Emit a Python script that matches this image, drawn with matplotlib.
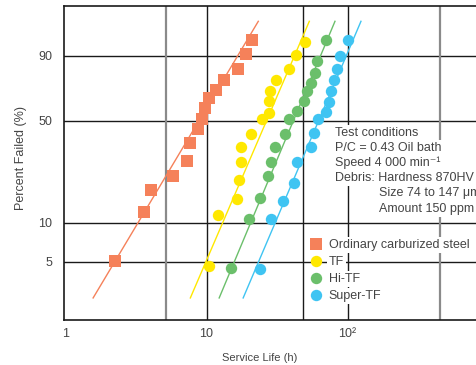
import numpy as np
import matplotlib
matplotlib.use("Agg")
import matplotlib.pyplot as plt

plt.rcParams['font.family'] = ['Liberation Sans', 'DejaVu Sans']

# service life (h) and percent failed (%)
ordinary_life = [2.26, 3.62, 4.06, 5.82, 7.27, 7.68, 8.75, 9.29, 9.76, 10.5, 11.7, 13.4, 16.8, 19.0, 21.1]
ordinary_failed = [5.07, 12.1, 17.5, 22.1, 28.1, 36.7, 44.7, 51.3, 58.2, 64.9, 70.3, 77.0, 83.5, 90.6, 95.4]

tf_life = [10.4, 12.0, 16.5, 17.1, 17.7, 17.5, 20.8, 24.6, 27.8, 27.8, 28.1, 31.1, 38.7, 43.4, 50.2]
tf_failed = [4.64, 11.4, 15.2, 20.7, 27.7, 34.6, 41.7, 50.9, 55.2, 63.1, 70.1, 77.0, 83.3, 90.2, 94.9]

hitf_life = [14.9, 20.1, 24.0, 27.2, 28.5, 30.6, 36.2, 38.7, 43.6, 48.9, 51.9, 54.7, 58.5, 61.0, 70.0]
hitf_failed = [4.45, 10.6, 15.4, 22.1, 27.7, 34.9, 41.7, 51.2, 56.4, 63.3, 70.0, 75.2, 81.5, 87.4, 95.3]

supertf_life = [24.1, 28.8, 34.7, 41.5, 43.6, 55.4, 57.9, 61.5, 70.4, 73.9, 76.4, 79.6, 84.2, 88.9, 100.3]
supertf_failed = [4.39, 10.6, 14.6, 19.6, 27.5, 34.9, 42.3, 51.1, 55.7, 62.4, 69.9, 77.0, 83.5, 89.9, 95.3]

# fitted Weibull lines, end points
fit_failed = [2.6, 98.7]
ordinary_fit = [1.57, 23.3]
tf_fit = [7.68, 53.6]
hitf_fit = [12.3, 81.5]
supertf_fit = [18.2, 124.6]

labels = ['Ordinary carburized steel', 'TF', 'Hi-TF', 'Super-TF']
colors = ['#F5815A', '#FFE800', '#6BBF6B', '#3FC4F2']

x_ticks = [1, 10, 100, 1000]
x_ticklabels = ['1', '10', '10\u00b2', '10\u00b3']
y_ticks = [5, 10, 50, 90]
x_grid_dark = [10, 48, 100]
x_grid_gray = [5.15, 455]

conditions = ['Test conditions', 'P/C = 0.43 Oil bath', 'Speed 4 000 min\u207b\u00b9',
              'Debris: Hardness 870HV']
debris_more = ['Size 74 to 147 \u03bcm', 'Amount 150 ppm']


def weibull(p):
    p = np.clip(np.asarray(p, dtype=float), 1e-6, 100 - 1e-6)
    return np.log(-np.log(1 - p / 100))


def weibull_inv(w):
    return 100 * (1 - np.exp(-np.exp(w)))


W, H = 476, 365
fig = plt.figure(figsize=(W / 100, H / 100), dpi=100)
ax = fig.add_axes([64 / W, 45 / H, 424.5 / W, 314 / H])
ax.set_xscale('log')
ax.set_yscale('function', functions=(weibull, weibull_inv))
ax.set_xlim(0.9758, 1000)
ax.set_ylim(1.738, 99.685)

for v in y_ticks:
    ax.axhline(v, color='#1a1a1a', lw=1.0, zorder=0.5)
for v in x_grid_dark:
    ax.axvline(v, color='#1a1a1a', lw=1.0, zorder=0.5)
for v in x_grid_gray:
    ax.axvline(v, color='#8a8a8a', lw=1.6, zorder=0.5)

series = [(ordinary_life, ordinary_failed, ordinary_fit, 's'),
          (tf_life, tf_failed, tf_fit, 'o'),
          (hitf_life, hitf_failed, hitf_fit, 'o'),
          (supertf_life, supertf_failed, supertf_fit, 'o')]
for (life, failed, fit, mk), lab, c in zip(series, labels, colors):
    ax.plot(fit, fit_failed, color=c, lw=1.0, zorder=2)
    ax.plot(life, failed, mk, color=c, ms=8.4 if mk == 's' else 8.2,
            mew=0, linestyle='none', label=lab, zorder=3)

ax.set_xticks(x_ticks)
ax.set_xticklabels(x_ticklabels)
ax.xaxis.set_minor_locator(matplotlib.ticker.NullLocator())
ax.set_yticks(y_ticks)
ax.set_yticklabels([str(v) for v in y_ticks])
ax.yaxis.set_minor_locator(matplotlib.ticker.NullLocator())
ax.tick_params(axis='both', length=0, labelsize=9, labelcolor='#444444')
ax.tick_params(axis='y', pad=8.6)
ax.tick_params(axis='x', pad=5.5)

for s in ax.spines.values():
    s.set_color('#1a1a1a')
    s.set_linewidth(1.2)

ax.set_xlabel('Service Life (h)', fontsize=8, color='#444444', va='center')
ax.xaxis.set_label_coords((260 - 64) / 424.5, (320 - 358) / 314)
ax.set_ylabel('Percent Failed (%)', fontsize=9, color='#444444', va='center', ha='center')
ax.yaxis.set_label_coords((21 - 64) / 424.5, (320 - 158) / 314)

box = dict(facecolor='white', edgecolor='none', pad=1.5)
for i, t in enumerate(conditions):
    fig.text(335 / W, 1 - (132.7 + 15.2 * i) / H, t, fontsize=9, color='#444444',
             va='center', ha='left', bbox=box)
for i, t in enumerate(debris_more):
    fig.text(379 / W, 1 - (193.3 + 15.7 * i) / H, t, fontsize=9, color='#444444',
             va='center', ha='left', bbox=box)

leg = ax.legend(loc='upper left', bbox_to_anchor=(310 / W, 1 - 239 / H),
                bbox_transform=fig.transFigure, frameon=False, fontsize=9,
                handlelength=1.0, handletextpad=0.5, labelspacing=0.4,
                borderpad=0, borderaxespad=0, numpoints=1)
for t in leg.get_texts():
    t.set_color('#444444')
    t.set_bbox(dict(facecolor='white', edgecolor='none', pad=1.5))

fig.savefig('out.png', dpi=100)
